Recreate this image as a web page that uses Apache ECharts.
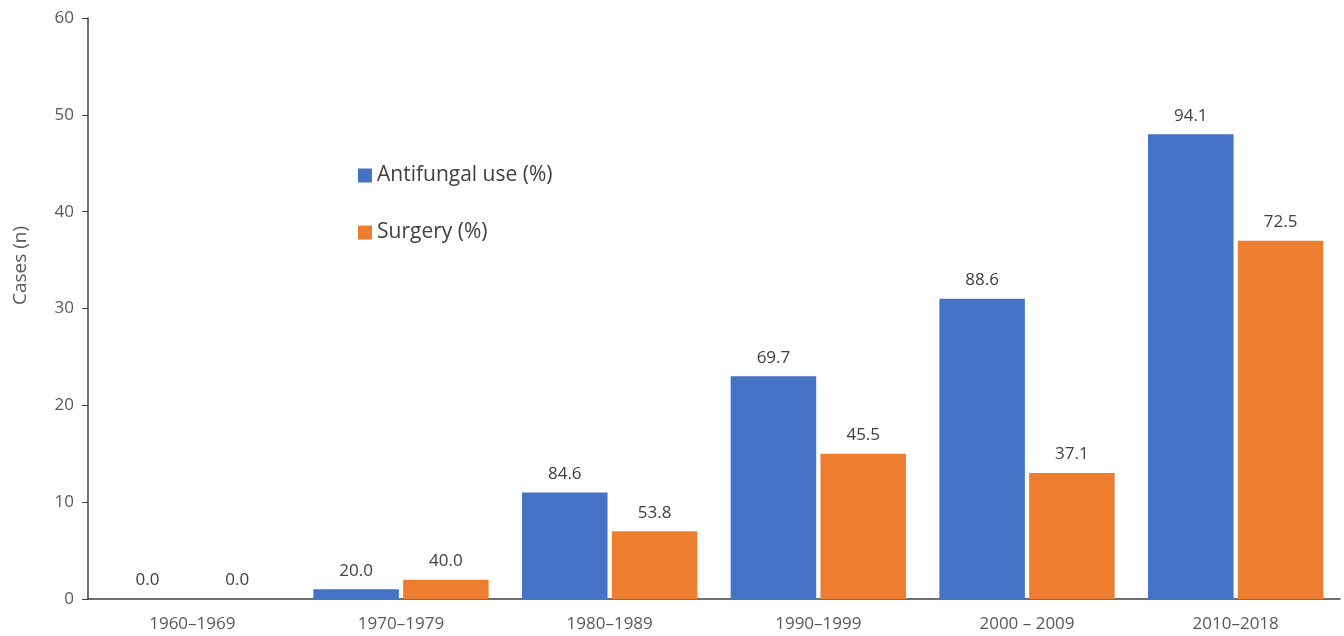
<!DOCTYPE html>
<html>
<head>
<meta charset="utf-8">
<script src="https://cdn.jsdelivr.net/npm/echarts@6/dist/echarts.min.js"></script>
<style>
html, body { margin: 0; padding: 0; background: #fff; }
#main { width: 1344px; height: 636px; }
</style>
</head>
<body>
<div id="main"></div>
<script>
var decades = ['1960\u20131969', '1970\u20131979', '1980\u20131989', '1990\u20131999', '2000 \u2013 2009', '2010\u20132018'];
var antifungalCases = [0, 1, 11, 23, 31, 48];
var surgeryCases = [0, 2, 7, 15, 13, 37];
var antifungalPct = ['0.0', '20.0', '84.6', '69.7', '88.6', '94.1'];
var surgeryPct = ['0.0', '40.0', '53.8', '45.5', '37.1', '72.5'];

var textColor = '#595959';
var font = 'Open Sans, Noto Sans, sans-serif';

option = {
    animation: false,
    textStyle: { fontFamily: font },
    legend: {
        orient: 'vertical',
        left: 353,
        top: 160,
        itemGap: 36,
        itemWidth: 14,
        itemHeight: 14,
        icon: 'rect',
        textStyle: { color: '#404040', fontSize: 21, fontFamily: font },
        data: ['Antifungal use (%)', 'Surgery (%)']
    },
    grid: {
        left: 88,
        right: 4,
        top: 18,
        bottom: 37
    },
    xAxis: {
        type: 'category',
        data: decades,
        axisLine: { lineStyle: { color: '#404040', width: 1.5 } },
        axisTick: { show: false },
        axisLabel: { color: textColor, fontSize: 17, margin: 17, fontFamily: font }
    },
    yAxis: {
        type: 'value',
        min: 0,
        max: 60,
        interval: 10,
        name: 'Cases (n)',
        nameLocation: 'middle',
        nameGap: 58,
        nameTextStyle: { color: textColor, fontSize: 19, fontFamily: font, padding: [0, 0, 0, 86] },
        axisLine: { show: true, lineStyle: { color: '#404040', width: 1.5 } },
        axisTick: { show: true, length: 6, lineStyle: { color: '#404040' } },
        splitLine: { show: false },
        axisLabel: { color: textColor, fontSize: 17, margin: 14, fontFamily: font }
    },
    series: [
        {
            name: 'Antifungal use (%)',
            type: 'bar',
            data: antifungalCases,
            barGap: '5%',
            barCategoryGap: '16%',
            itemStyle: { color: '#4472C4' },
            label: {
                show: true,
                position: 'top',
                distance: 10,
                color: '#404040',
                fontSize: 17,
                fontFamily: font,
                formatter: function (p) { return antifungalPct[p.dataIndex]; }
            }
        },
        {
            name: 'Surgery (%)',
            type: 'bar',
            data: surgeryCases,
            barGap: '5%',
            barCategoryGap: '16%',
            itemStyle: { color: '#ED7D31' },
            label: {
                show: true,
                position: 'top',
                distance: 10,
                color: '#404040',
                fontSize: 17,
                fontFamily: font,
                formatter: function (p) { return surgeryPct[p.dataIndex]; }
            }
        }
    ]
};
echarts.init(document.getElementById('main')).setOption(option);
</script>
</body>
</html>
